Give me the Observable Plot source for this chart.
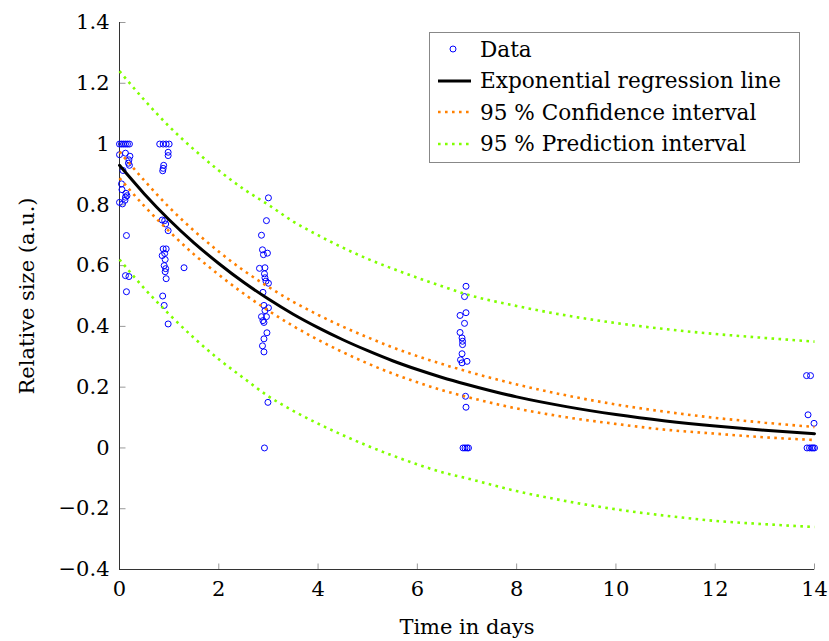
<!DOCTYPE html>
<html><head><meta charset="utf-8">
<script src="https://cdn.jsdelivr.net/npm/d3@7"></script>
<script src="https://cdn.jsdelivr.net/npm/@observablehq/plot@0.6"></script>
<style>
html,body{margin:0;padding:0;background:#fff;}
#wrap{position:relative;width:829px;height:641px;font-family:"DejaVu Serif",serif;}
#legend{position:absolute;left:429px;top:32px;width:371px;height:131px;border:1px solid #888;background:#fff;box-sizing:border-box;}
.row{position:absolute;left:0;height:32px;display:flex;align-items:center;font-size:21.6px;color:#000;white-space:nowrap;}
.row svg{width:50px;height:32px;flex:none;}
</style></head>
<body><div id="wrap"><div id="chart"></div><div id="legend"></div></div>
<script>
// ---- data ----
const dataT = [
  0.00,0.04,0.08,0.12,0.16,0.20,0.00,0.12,0.21,0.19,0.18,0.20,0.07,0.04,0.05,0.13,0.12,0.15,0.11,0.00,0.06,0.14,0.12,0.19,0.14,
  0.81,0.88,0.94,1.00,0.98,0.98,0.89,0.88,0.87,0.86,0.91,0.93,0.98,0.88,0.94,0.86,0.91,0.92,0.90,0.93,0.92,0.94,1.30,0.87,0.90,0.98,
  3.00,2.96,2.86,2.88,2.98,2.90,2.82,2.93,2.92,2.93,2.95,3.00,2.89,2.91,3.00,2.93,2.86,2.96,2.89,2.91,2.97,2.91,2.88,2.91,2.99,2.92,
  6.98,6.95,6.98,6.86,6.95,6.86,6.90,6.91,6.91,6.90,6.87,7.00,6.90,6.97,6.98,6.92,6.96,7.00,7.03,
  13.84,13.92,13.87,13.99,13.85,13.90,13.94,13.97,14.00
];
const dataV = [
  1.000,1.000,1.000,1.000,1.000,1.000,0.965,0.970,0.960,0.948,0.937,0.930,0.913,0.869,0.850,0.838,0.825,0.830,0.815,0.808,0.803,0.699,0.567,0.564,0.514,
  1.000,1.000,1.000,1.000,0.973,0.962,0.930,0.920,0.912,0.750,0.748,0.737,0.715,0.655,0.655,0.633,0.640,0.620,0.600,0.590,0.580,0.557,0.593,0.500,0.469,0.408,
  0.823,0.748,0.700,0.652,0.641,0.636,0.591,0.593,0.573,0.560,0.549,0.542,0.512,0.469,0.461,0.452,0.432,0.432,0.419,0.413,0.379,0.359,0.336,0.316,0.150,0.000,
  0.532,0.498,0.445,0.436,0.410,0.380,0.362,0.351,0.340,0.310,0.290,0.285,0.280,0.170,0.134,0.000,0.000,0.000,0.000,
  0.238,0.238,0.109,0.081,0.000,0.000,0.000,0.000,0.000
];
const curveT   = [0,0.5,1,1.5,2,2.5,3,3.5,4,4.5,5,5.5,6,6.5,7,8,9,10,11,12,13,14];
const fitMean  = [0.930,0.836,0.751,0.675,0.607,0.545,0.490,0.440,0.396,0.356,0.320,0.287,0.258,0.232,0.209,0.168,0.136,0.110,0.089,0.072,0.058,0.047];
const ciUpper  = [0.975,0.880,0.792,0.715,0.646,0.584,0.530,0.481,0.438,0.399,0.364,0.331,0.302,0.276,0.252,0.209,0.173,0.143,0.119,0.099,0.083,0.069];
const ciLower  = [0.888,0.796,0.713,0.637,0.570,0.508,0.452,0.401,0.356,0.315,0.278,0.245,0.216,0.190,0.168,0.130,0.101,0.079,0.060,0.047,0.035,0.026];
const piUpper  = [1.240,1.145,1.058,0.982,0.913,0.852,0.800,0.745,0.700,0.659,0.622,0.590,0.560,0.532,0.505,0.467,0.436,0.411,0.391,0.375,0.362,0.350];
const piLower  = [0.620,0.525,0.440,0.362,0.292,0.230,0.170,0.122,0.080,0.042,0.007,-0.025,-0.054,-0.080,-0.100,-0.142,-0.175,-0.202,-0.223,-0.240,-0.251,-0.260];
const xTicks = [0,2,4,6,8,10,12,14];
const xTickLabels = ["0","2","4","6","8","10","12","14"];
const yTicks = [-0.4,-0.2,0,0.2,0.4,0.6,0.8,1,1.2,1.4];
const yTickLabels = ["\u22120.4","\u22120.2","0","0.2","0.4","0.6","0.8","1","1.2","1.4"];
const seriesNames = ["Data","Exponential regression line","95 % Confidence interval","95 % Prediction interval"];
const colors = {data:"#0000ff", fit:"#000000", ci:"#ff8000", pi:"#80ff00"};

// ---- build tables ----
const points = dataT.map((t,i)=>({t, v:dataV[i]}));
const curves = curveT.map((t,i)=>({t, mean:fitMean[i], ciU:ciUpper[i], ciL:ciLower[i], piU:piUpper[i], piL:piLower[i]}));
const tickUp = {draw(ctx){ctx.moveTo(0,0);ctx.lineTo(0,-6);}};
const tickRight = {draw(ctx){ctx.moveTo(0,0);ctx.lineTo(6,0);}};
const dotted = {strokeWidth:2.6, strokeDasharray:"2.6,4.4", strokeLinecap:"butt", curve:"monotone-x"};

const chart = Plot.plot({
  width:829, height:641,
  marginLeft:119, marginRight:15, marginTop:22, marginBottom:72,
  style:{fontFamily:"'DejaVu Serif', serif", fontSize:"21px", color:"#000", background:"#fff"},
  x:{domain:[0,14]},
  y:{domain:[-0.4,1.4]},
  marks:[
    Plot.axisX({ticks:xTicks, tickSize:0, tickPadding:12, tickFormat:(d)=>xTickLabels[xTicks.indexOf(d)],
      label:"Time in days", labelAnchor:"center", labelOffset:64, labelArrow:"none"}),
    Plot.axisY({ticks:yTicks, tickSize:0, tickPadding:10, tickFormat:(d)=>yTickLabels[yTicks.findIndex(v=>Math.abs(v-d)<1e-9)],
      label:"Relative size (a.u.)", labelAnchor:"center", labelOffset:100, labelArrow:"none"}),
    Plot.dot(xTicks, {x:d=>d, y:()=>-0.4, symbol:tickUp, stroke:"#999", strokeWidth:1}),
    Plot.dot(yTicks, {x:()=>0, y:d=>d, symbol:tickRight, stroke:"#999", strokeWidth:1}),
    Plot.ruleY([-0.4], {stroke:"#333", strokeWidth:1}),
    Plot.ruleX([0], {stroke:"#333", strokeWidth:1}),
    Plot.dot(points, {x:"t", y:"v", r:3, stroke:colors.data, strokeWidth:1, fill:"none"}),
    Plot.line(curves, {x:"t", y:"mean", stroke:colors.fit, strokeWidth:3, curve:"monotone-x"}),
    Plot.line(curves, {x:"t", y:"ciU", stroke:colors.ci, ...dotted}),
    Plot.line(curves, {x:"t", y:"ciL", stroke:colors.ci, ...dotted}),
    Plot.line(curves, {x:"t", y:"piU", stroke:colors.pi, ...dotted}),
    Plot.line(curves, {x:"t", y:"piL", stroke:colors.pi, ...dotted})
  ]
});
document.getElementById("chart").appendChild(chart);

// ---- legend ----
const lg = document.getElementById("legend");
const symbols = [
  `<circle cx="23" cy="16" r="3" fill="none" stroke="${colors.data}" stroke-width="1"/>`,
  `<line x1="8" x2="41" y1="16" y2="16" stroke="${colors.fit}" stroke-width="3"/>`,
  `<line x1="8" x2="41" y1="16" y2="16" stroke="${colors.ci}" stroke-width="2.6" stroke-dasharray="2.6,4.4"/>`,
  `<line x1="8" x2="41" y1="16" y2="16" stroke="${colors.pi}" stroke-width="2.6" stroke-dasharray="2.6,4.4"/>`
];
seriesNames.forEach((name,i)=>{
  const row = document.createElement("div");
  row.className = "row";
  row.style.top = (0 + i*31.5) + "px";
  row.innerHTML = `<svg viewBox="0 0 50 32">${symbols[i]}</svg><span>${name}</span>`;
  lg.appendChild(row);
});
</script></body></html>
